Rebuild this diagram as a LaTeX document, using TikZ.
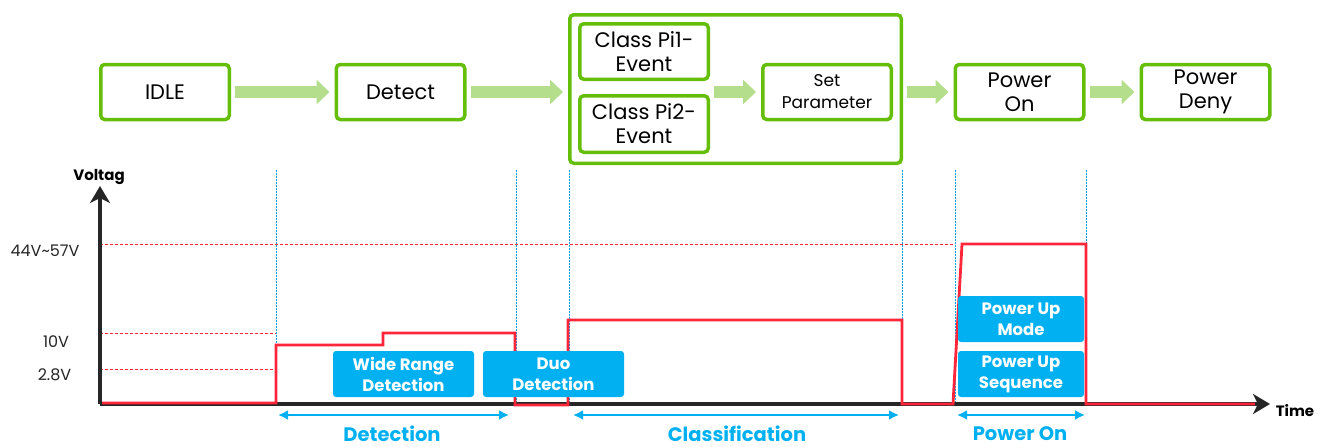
\documentclass[tikz,border=0pt]{standalone}
\usepackage{fontspec}
\setmainfont{Poppins}
\usetikzlibrary{arrows.meta}
\definecolor{gborder}{RGB}{100,190,10}
\definecolor{garrow}{RGB}{181,222,140}
\definecolor{bbox}{RGB}{0,176,240}
\definecolor{wred}{RGB}{255,38,58}
\definecolor{axisc}{RGB}{38,38,38}
\definecolor{vline}{RGB}{0,160,230}
\begin{document}
\begin{tikzpicture}[x=1pt,y=-1pt,
 state/.style={draw=gborder,line width=3.5pt,rounded corners=4pt,fill=white,align=center,
   font=\fontsize{21}{24}\selectfont,inner sep=0pt,minimum width=128.5pt,minimum height=55pt},
 flow/.style={draw=garrow,line width=12pt,-{Triangle[length=13pt,width=24pt]},shorten <=4pt,shorten >=5pt},
 bluebox/.style={fill=bbox,rounded corners=3pt,text=white,align=center,
   font=\bfseries\fontsize{16.5}{21}\selectfont,inner sep=0pt,minimum height=46pt},
 axis/.style={draw=axisc,line width=4pt,-{Stealth[length=17pt,width=20pt,inset=5pt]}},
 wave/.style={draw=wred,line width=2.8pt,line join=miter},
 level/.style={draw=wred,line width=0.7pt,dash pattern=on 3pt off 2pt},
 guide/.style={draw=vline,line width=0.8pt,dash pattern=on 1.5pt off 1.5pt},
 span/.style={draw=bbox,line width=2.5pt,{Latex[length=10pt,width=10pt]}-{Latex[length=10pt,width=10pt]}},
 spanlabel/.style={text=bbox,font=\bfseries\fontsize{19.5}{20}\selectfont},
 vlabel/.style={font=\fontsize{16}{18}\selectfont,text=black!85},
 axlabel/.style={font=\bfseries\fontsize{15}{16}\selectfont}
]
\useasboundingbox (0,0) rectangle (1329,447);

% state boxes
\node[state] (idle) at (165,92) {IDLE};
\node[state] (detect) at (400.5,92) {Detect};
\node[state,minimum width=331.5pt,minimum height=148.5pt] (cls) at (735.5,89) {};
\node[state,minimum height=55.5pt] (pi1) at (644,51.5) {Class Pi1-\\Event};
\node[state,minimum height=56.5pt] (pi2) at (644,124) {Class Pi2-\\Event};
\node[state,font=\fontsize{17}{22}\selectfont] (setp) at (827,92) {Set\\Parameter};
\node[state] (pon) at (1019.5,92) {Power\\On};
\node[state] (deny) at (1205.5,92) {Power\\Deny};

\draw[flow] (idle.east) -- (detect.west);
\draw[flow] (detect.east) -- (cls.west |- detect.east);
\draw[flow] (pi1.east |- setp.west) -- (setp.west);
\draw[flow] (cls.east |- pon.west) -- (pon.west);
\draw[flow] (pon.east) -- (deny.west);

% guides
\foreach \x in {276,516,569,902,955,1086} \draw[guide] (\x,170) -- (\x,404);
\draw[level] (100,244) -- (955,244);
\draw[level] (100,333) -- (276,333);
\draw[level] (100,369) -- (276,369);

% axes
\coordinate (o) at (100,404);
\coordinate (ytip) at (100,186);
\coordinate (xtip) at (1270,404);
\draw[axis] (o) -- (ytip);
\draw[axis] (o) -- (xtip);
\node[axlabel] (vlab) at (99,177) {Voltag};
\node[axlabel] (tlab) at (1295,411) {Time};

\node[vlabel] (l44) at (45,251) {44V\textasciitilde 57V};
\node[vlabel] (l10) at (56,342) {10V};
\node[vlabel] (l28) at (54.5,375) {2.8V};

% waveform
\draw[wave] (102,403) -- (276,403) -- (276,345) -- (383,345) -- (383,333) -- (515,333)
  -- (515,405) -- (568,405) -- (568,320) -- (902,320) -- (902,404) -- (953,404)
  -- (962,244) -- (1086,244) -- (1086,404) -- (1255,404);

% blue boxes
\node[bluebox,minimum width=141pt] (wide) at (403.5,374) {Wide Range\\Detection};
\node[bluebox,minimum width=141pt] (duo) at (553.5,374) {Duo\\Detection};
\node[bluebox,minimum width=126pt] (pum) at (1021,319) {Power Up\\Mode};
\node[bluebox,minimum width=126pt] (pus) at (1021,374) {Power Up\\Sequence};

% spans
\coordinate (d1) at (278,415); \coordinate (d2) at (509,415);
\coordinate (c1) at (573,415); \coordinate (c2) at (899,415);
\coordinate (p1) at (957,415); \coordinate (p2) at (1085,415);
\draw[span] (d1) -- (d2);
\draw[span] (c1) -- (c2);
\draw[span] (p1) -- (p2);
\node[spanlabel] (ldet) at (392,434) {Detection};
\node[spanlabel] (lcls) at (737,434) {Classification};
\node[spanlabel] (lpon) at (1020,434) {Power On};
\end{tikzpicture}
\end{document}
